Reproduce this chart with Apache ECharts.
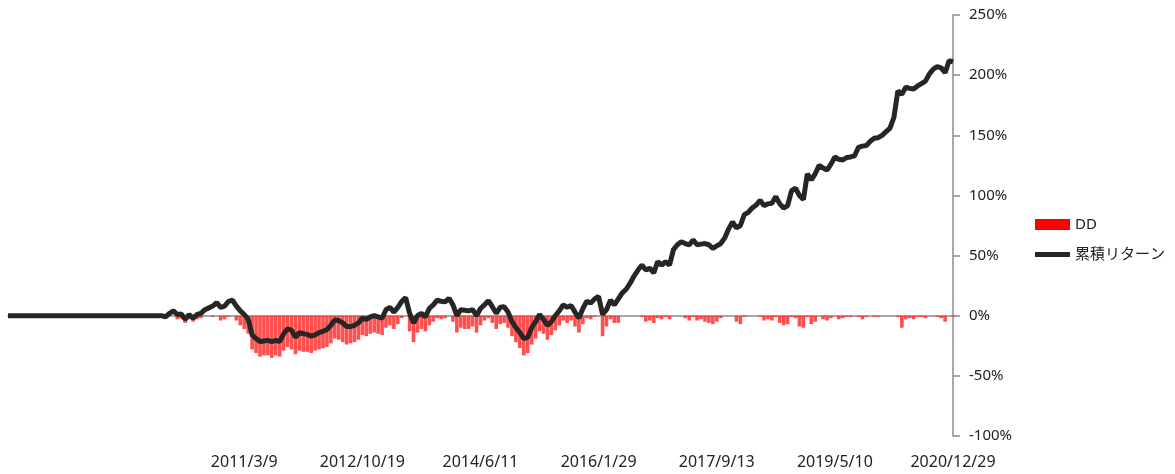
<!DOCTYPE html>
<html lang="ja">
<head>
    <meta charset="UTF-8">
    <title>累積リターン</title>
    <style>
        html, body { margin: 0; padding: 0; background: #fff; }
        #main { width: 1175px; height: 474px; }
    </style>
</head>
<body>
    <div id="main"></div>
    <script src="https://cdn.jsdelivr.net/npm/echarts@6/dist/echarts.min.js"></script>
    <script type="text/javascript">
        // date labels shown every 30 points (first two slots have no date)
        var tickDates = ['', '', '2011/3/9', '2012/10/19', '2014/6/11', '2016/1/29', '2017/9/13', '2019/5/10', '2020/12/29'];

        // cumulative return (%)
        var cumReturn = [
            0, 0, 0, 0, 0, 0, 0, 0, 0, 0, 0, 0, 0, 0, 0, 0, 0, 0, 0, 0,
            0, 0, 0, 0, 0, 0, 0, 0, 0, 0, 0, 0, 0, 0, 0, 0, 0, 0, 0, 0,
            -1, 2, 4, 1, 1.5, -3, 1, -2, 1, 2,
            5, 6.5, 8, 11, 7, 8, 12, 13, 8, 4,
            1, -3, -16, -19, -21.5, -21, -20.5, -21.5, -20.5, -21.5,
            -15, -11, -12, -18, -14, -15, -15.5, -17, -16, -14,
            -13, -11.5, -8, -3.5, -4, -6, -9, -9, -8, -6,
            -2, -3, -1, 0, -1, -2, 5, 7, 3, 7,
            12, 15, 2, -6, 0, 2, -1, 6, 9, 13,
            12, 11.5, 14.5, 9, 0, 5, 4.5, 4, 5, 0,
            6, 9, 12.5, 7.5, 2, 7, 7.5, 3, -5, -10,
            -14, -19, -18, -10, -5, 1, -3, -8, -5, 0,
            4, 9, 7, 8.5, 3, -2, 6, 12, 10.5, 14,
            16, 1, 5, 13, 9, 14, 19, 22, 27, 33,
            38, 42, 38, 39.5, 35.5, 45, 42, 45, 42, 55,
            59, 61.5, 60, 58.8, 63, 59, 59.5, 60, 59, 56,
            58, 60, 64.5, 72, 78, 73, 75, 84, 86, 89.5,
            92, 96, 91.5, 93, 93.5, 99, 93, 89.5, 91.5, 104,
            106, 100, 96.5, 118, 113, 118, 125, 123, 121, 126,
            132, 130, 129.5, 131.5, 132, 133, 140, 141, 141.5, 145,
            147.5, 148, 150, 153, 156, 165, 187, 184, 190, 189,
            188.5, 191, 193, 195, 201, 205, 207, 206, 202, 212,
            211
        ];

        // drawdown (%)
        var drawdown = [
            0, 0, 0, 0, 0, 0, 0, 0, 0, 0, 0, 0, 0, 0, 0, 0, 0, 0, 0, 0,
            0, 0, 0, 0, 0, 0, 0, 0, 0, 0, 0, 0, 0, 0, 0, 0, 0, 0, 0, 0,
            -1, 0, 0, -3, -2.5, -6, -3, -5, -3, -2,
            0, 0, -1, 0, -4, -3, -1, 0, -4, -8,
            -11, -15, -28, -31, -34, -33, -33, -35, -33, -34,
            -29, -26, -28, -32, -29, -30, -30, -31, -29, -28,
            -27, -26, -23, -19, -20, -22, -24, -23, -22, -20,
            -16, -17, -15, -14, -15, -16, -10, -8, -11, -7,
            -2, 0, -13, -22, -14, -11, -13, -8, -5, -2,
            -3, -2, 0, -5, -14, -10, -11, -11, -9, -14,
            -8, -4, -2, -6, -11, -7, -6, -10, -17, -22,
            -27, -33, -31, -24, -19, -13, -15, -20, -16, -12,
            -8, -4, -6, -4, -9, -14, -7, -2, -3, -1,
            0, -17, -9, -3, -6, -6, 0, 0, 0, 0,
            0, -1, -5, -4, -6, -2, -3, -1, -3, 0,
            0, 0, -2, -4, -1, -4, -3, -5, -6, -7,
            -5, -2, 0, 0, 0, -5, -7, -1, 0, 0,
            0, -1, -4, -3, -4, -1, -6, -8, -7, -1,
            -2, -9, -10, -1, -7, -5, 0, -3, -4, -2,
            0, -3, -2, -1, -1, 0, -1, -3, -1, 0,
            -1, -1, 0, 0, 0, 0, -1, -10, -3, -2,
            -3, -1, -1, -2, 0, 0, -1, -2, -5, 0,
            -1
        ];

        var categories = cumReturn.map(function (v, i) { return i; });

        var labelFont = 'Noto Sans, Noto Sans CJK JP, sans-serif';

        var myChart = echarts.init(document.getElementById('main'));
        var option = {
            animation: false,
            grid: { left: 8, right: 222, top: 15, bottom: 38 },
            legend: {
                orient: 'vertical',
                left: 1030,
                top: 212,
                itemWidth: 35,
                itemHeight: 11,
                itemGap: 15,
                itemStyle: {},
                textStyle: { fontSize: 15, color: '#222', fontFamily: labelFont },
                data: [
                    { name: 'DD', icon: 'rect', itemStyle: { color: '#ff0000', opacity: 1 } },
                    { name: '累積リターン', icon: 'path://M0,0H35V5H0Z', itemStyle: { color: '#262626' } }
                ]
            },
            xAxis: [{
                type: 'category',
                data: categories,
                boundaryGap: false,
                axisLine: { onZero: true, lineStyle: { color: '#8c8c8c', width: 1.5 } },
                axisTick: { show: false },
                axisLabel: { show: false }
            }, {
                type: 'category',
                data: categories,
                position: 'bottom',
                boundaryGap: false,
                axisLine: { show: false, onZero: false },
                axisTick: { show: false },
                axisLabel: {
                    interval: 0,
                    margin: 18,
                    fontSize: 16,
                    color: '#222',
                    fontFamily: labelFont,
                    formatter: function (value, idx) {
                        return idx % 30 === 0 ? tickDates[idx / 30] : '';
                    }
                }
            }],
            yAxis: {
                type: 'value',
                position: 'right',
                min: -100,
                max: 250,
                interval: 50,
                splitLine: { show: false },
                axisLine: { show: true, lineStyle: { color: '#8c8c8c', width: 1.5 } },
                axisTick: { show: true, length: 7, lineStyle: { color: '#8c8c8c', width: 1.5 } },
                axisLabel: {
                    margin: 16,
                    fontSize: 15,
                    color: '#222',
                    fontFamily: labelFont,
                    formatter: '{value}%'
                }
            },
            series: [{
                name: 'DD',
                type: 'bar',
                data: drawdown,
                barCategoryGap: '8%',
                itemStyle: { color: '#ff3030', opacity: 0.85 }
            }, {
                name: '累積リターン',
                type: 'line',
                data: cumReturn,
                symbol: 'none',
                z: 5,
                lineStyle: { color: '#262626', width: 5 },
                itemStyle: { color: '#262626' }
            }]
        };
        myChart.setOption(option);
    </script>
</body>
</html>
